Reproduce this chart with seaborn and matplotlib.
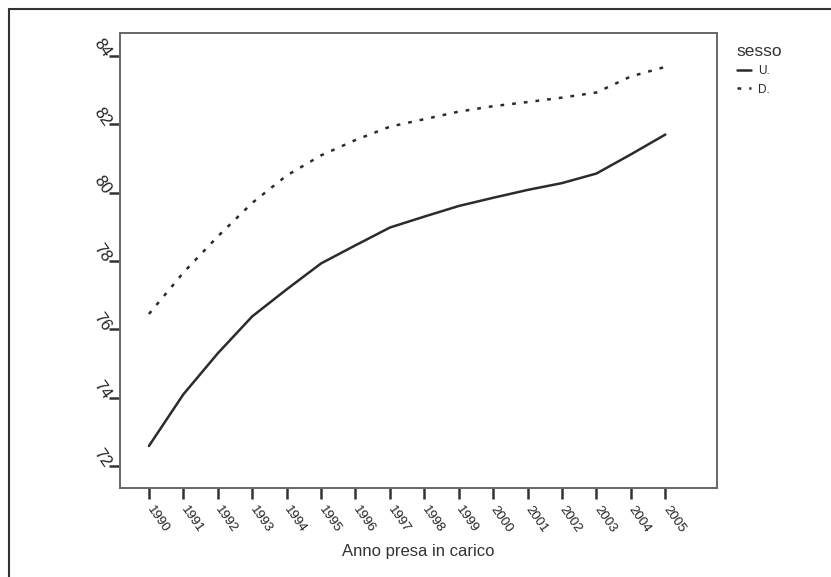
import pandas as pd
import numpy as np
import matplotlib.pyplot as plt
import matplotlib.lines as mlines
import seaborn as sns

# Data
years = list(range(1990, 2006))
uomini = [72.59, 74.1, 75.3, 76.38, 77.17, 77.93, 78.46, 78.98, 79.3, 79.61,
          79.85, 80.08, 80.28, 80.56, 81.12, 81.7]
donne = [76.45, 77.66, 78.72, 79.7, 80.5, 81.09, 81.54, 81.93, 82.15, 82.37,
         82.53, 82.65, 82.78, 82.93, 83.4, 83.68]
sesso_labels = ['U.', 'D.']

df = pd.concat([
    pd.DataFrame({'anno': years, 'eta': uomini, 'sesso': sesso_labels[0]}),
    pd.DataFrame({'anno': years, 'eta': donne, 'sesso': sesso_labels[1]}),
])

sns.set_theme(style='white')
plt.rcParams['font.family'] = ['Liberation Sans', 'DejaVu Sans']

fig = plt.figure(figsize=(8.31, 5.77), dpi=100)
ax = fig.add_axes([0.1444, 0.1542, 0.7184, 0.7886])

line_color = '#2b2b2b'
sns.lineplot(data=df, x='anno', y='eta', hue='sesso', style='sesso',
             palette={'U.': line_color, 'D.': line_color},
             dashes={'U.': '', 'D.': (1.5, 3.2)}, linewidth=1.8, ax=ax)

ax.set_xlim(1989.16, 2006.5)
ax.set_ylim(71.36, 84.67)
ax.set_xticks(years)
ax.set_xticklabels([str(y) for y in years], rotation=-55, ha='left',
                   va='center', rotation_mode='anchor', fontsize=9.5)
ax.set_yticks([72, 74, 76, 78, 80, 82, 84])
ax.set_yticklabels(['72', '74', '76', '78', '80', '82', '84'], rotation=-55,
                   ha='right', va='center', rotation_mode='anchor', fontsize=12)
ax.tick_params(axis='both', direction='out', length=8, width=1.8,
               color='#333333', labelcolor='#222222', bottom=True, left=True)
ax.tick_params(axis='x', pad=6)
ax.tick_params(axis='y', pad=1)
for s in ax.spines.values():
    s.set_color('#666666')
    s.set_linewidth(1.4)

ax.set_xlabel('Anno presa in carico', fontsize=12, color='#333333', labelpad=6)
ax.set_ylabel('')

handles, labels = ax.get_legend_handles_labels()
leg = ax.legend(handles, labels, title='sesso', loc='upper left',
                bbox_to_anchor=(1.015, 1.0), frameon=False, fontsize=8.5,
                title_fontsize=12.5, handlelength=1.2, handletextpad=0.6,
                labelspacing=0.55, alignment='left')
leg.get_title().set_color('#333333')

# thin frame around the picture (left and top)
fig.add_artist(mlines.Line2D([9 / 831, 9 / 831], [0, 1 - 9 / 577],
                             color='#333333', linewidth=1.5))
fig.add_artist(mlines.Line2D([9 / 831, 1], [1 - 9 / 577, 1 - 9 / 577],
                             color='#333333', linewidth=1.5))

fig.savefig('out.png', dpi=100, facecolor='white')
